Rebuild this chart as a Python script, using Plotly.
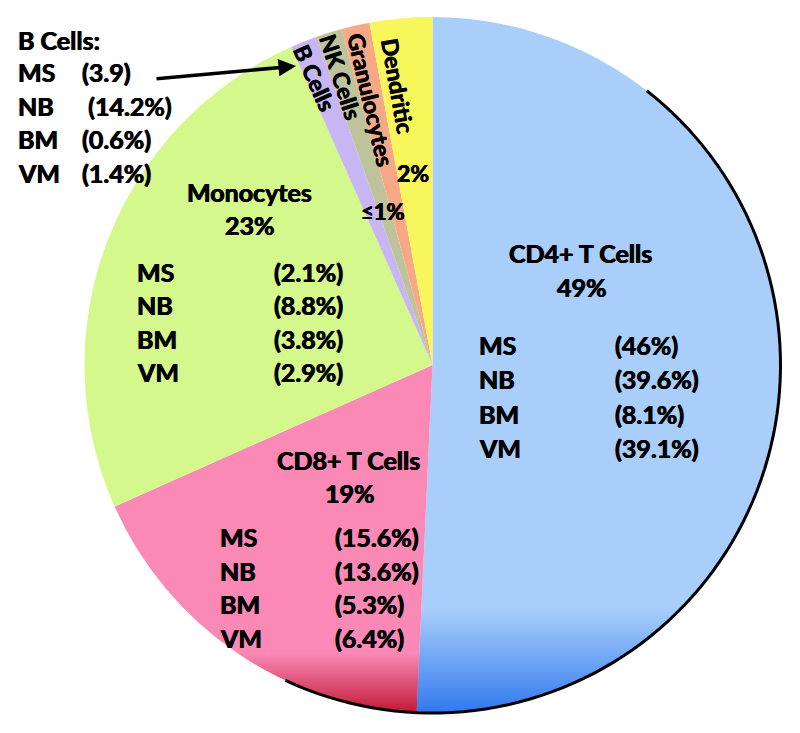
import base64
import numpy as np
import plotly.graph_objects as go

# slice shares (angles), clockwise from 12 o'clock
cells = ['CD4+ T Cells', 'CD8+ T Cells', 'Monocytes', 'B Cells', 'NK Cells', 'Granulocytes', 'Dendritic']
shares = [50.7, 17.6, 25.0, 1.25, 1.2, 1.3, 2.9]
colors = ['#A9CEFA', '#FA89B6', '#D5F88C', '#C7B6F2', '#BEC39B', '#F7A987', '#F7F65A']

groups = ['MS', 'NB', 'BM', 'VM']
cd4_vals = ['(46%)', '(39.6%)', '(8.1%)', '(39.1%)']
cd8_vals = ['(15.6%)', '(13.6%)', '(5.3%)', '(6.4%)']
mono_vals = ['(2.1%)', '(8.8%)', '(3.8%)', '(2.9%)']
bcell_vals = ['(3.9)', ' (14.2%)', '(0.6%)', '(1.4%)']

W, H = 800, 733
OFF = 8  # page body margin, the figure sits 8px in from the corner
FONT = 'Lato'
HEAVY = '0.45px 0 0 black, -0.45px 0 0 black'  # fattens the bold a little


def P(x, y):
    # viewport pixel -> paper coords
    return (x - OFF) / W, 1 - (y - OFF) / H


# pie box in viewport pixels
L, R, T, B = 83, 782, 17, 713
fig = go.Figure(go.Pie(
    labels=cells, values=shares, sort=False, direction='clockwise', rotation=0,
    marker=dict(colors=colors, line=dict(width=0)),
    textinfo='none', hoverinfo='label+percent',
    domain=dict(x=[P(L, 0)[0], P(R, 0)[0]], y=[P(0, B)[1], P(0, T)[1]]),
    showlegend=False,
))

ann = []


def txt(x, y, s, size=25, angle=0, xanchor='left'):
    px, py = P(x, y)
    ann.append(dict(x=px, y=py, xref='paper', yref='paper', text=s,
                    showarrow=False, textangle=angle, xanchor=xanchor, yanchor='middle',
                    font=dict(family=FONT, size=size, color='black', weight='bold',
                              shadow=HEAVY)))


# big slice titles
txt(580, 253, 'CD4+ T Cells', xanchor='center')
txt(582, 287, '49%', xanchor='center')
txt(348, 460, 'CD8+ T Cells', xanchor='center')
txt(350, 493, '19%', xanchor='center')
txt(249, 192, 'Monocytes', xanchor='center')
txt(250, 225, '23%', xanchor='center')

# breakdown lists
for i, g in enumerate(groups):
    txt(477, 345 + 34.3 * i, g)
    txt(613, 345 + 34.3 * i, cd4_vals[i])
    txt(218, 537 + 33.7 * i, g)
    txt(333, 537 + 33.7 * i, cd8_vals[i])
    txt(135, 272 + 33.3 * i, g)
    txt(272, 272 + 33.3 * i, mono_vals[i])
    txt(16, 72 + 33.5 * i, g)
    txt(80, 72 + 33.5 * i, bcell_vals[i])
txt(16, 40, 'B Cells:')

# small slices, written along the slice
txt(315, 78, 'B Cells', 23, angle=66, xanchor='center')
txt(341, 77, 'NK Cells', 23, angle=72, xanchor='center')
txt(371, 100, 'Granulocytes', 23, angle=77, xanchor='center')
txt(398, 86, 'Dendritic', 23, angle=80, xanchor='center')
txt(413, 173, '2%', 23, xanchor='center')
txt(383, 211, '≤1%', 22, xanchor='center')

# arrow from the B cell list to the B cell slice
tip = P(296, 66)
ann.append(dict(x=tip[0], y=tip[1], ax=155 - 296, ay=79 - 66, xref='paper', yref='paper',
                axref='pixel', ayref='pixel', text='', showarrow=True, arrowhead=2,
                arrowsize=1, arrowwidth=3.5, arrowcolor='black'))

# geometry of the drawn pie in figure pixels
cx, cy = (L + R) / 2 - OFF, (T + B) / 2 - OFF
r = min(R - L, B - T) / 2

# dark rim on the lower right side of the pie
th = np.radians(np.linspace(38, 205, 90))
rx = (cx + r * np.sin(th)) / W
ry = 1 - (cy - r * np.cos(th)) / H
rim = 'M ' + ' L '.join(f'{a:.5f},{b:.5f}' for a, b in zip(rx, ry))

# darker shading towards the bottom of the CD4 and CD8 slices
cum = np.cumsum([0] + shares) / sum(shares) * 2 * np.pi


def sector(a0, a1):
    x0, y0 = cx + r * np.sin(a0), cy - r * np.cos(a0)
    x1, y1 = cx + r * np.sin(a1), cy - r * np.cos(a1)
    big = 1 if a1 - a0 > np.pi else 0
    return f'M{cx:.2f},{cy:.2f} L{x0:.2f},{y0:.2f} A{r:.2f},{r:.2f} 0 {big} 1 {x1:.2f},{y1:.2f} Z'


svg = f'''<svg xmlns="http://www.w3.org/2000/svg" width="{W}" height="{H}" viewBox="0 0 {W} {H}" preserveAspectRatio="none">
<defs>
<linearGradient id="gb" gradientUnits="userSpaceOnUse" x1="0" y1="{cy + r - 105:.1f}" x2="0" y2="{cy + r:.1f}">
<stop offset="0" stop-color="#3A80F0" stop-opacity="0"/>
<stop offset="1" stop-color="#3078EE" stop-opacity="1"/>
</linearGradient>
<linearGradient id="gr" gradientUnits="userSpaceOnUse" x1="0" y1="{cy + r - 60:.1f}" x2="0" y2="{cy + r:.1f}">
<stop offset="0" stop-color="#C41C3A" stop-opacity="0"/>
<stop offset="1" stop-color="#C01834" stop-opacity="1"/>
</linearGradient>
</defs>
<path d="{sector(cum[0], cum[1])}" fill="url(#gb)"/>
<path d="{sector(cum[1], cum[2])}" fill="url(#gr)"/>
</svg>'''
shade = 'data:image/svg+xml;base64,' + base64.b64encode(svg.encode()).decode()

fig.update_layout(
    width=W, height=H, margin=dict(l=0, r=0, t=0, b=0),
    paper_bgcolor='white', plot_bgcolor='white',
    annotations=ann,
    images=[dict(source=shade, xref='paper', yref='paper', x=0, y=1, sizex=1, sizey=1,
                 xanchor='left', yanchor='top', sizing='stretch', layer='above')],
    shapes=[dict(type='path', path=rim, xref='paper', yref='paper',
                 line=dict(color='black', width=3))],
)

fig.write_html('out.html')
